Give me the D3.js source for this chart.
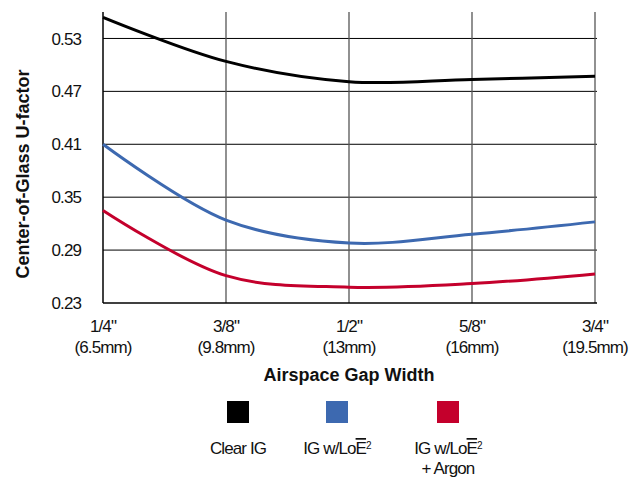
<!DOCTYPE html>
<html>
<head>
<meta charset="utf-8">
<script src="https://cdn.jsdelivr.net/npm/d3@7"></script>
<style>
  body { margin: 0; background: #fff; }
  text { font-family: "Liberation Sans", Arial, Helvetica, sans-serif; font-size: 17px; letter-spacing: -0.9px; fill: #111; }
  .bold { font-weight: bold; font-size: 18px; letter-spacing: 0; }
</style>
</head>
<body>
<script>
// gap widths and their labels
let gapInch = ['1/4"', '3/8"', '1/2"', '5/8"', '3/4"'];
let gapMMLabel = ["(6.5mm)", "(9.8mm)", "(13mm)", "(16mm)", "(19.5mm)"];

let yTicks = [0.23, 0.29, 0.35, 0.41, 0.47, 0.53];

// center-of-glass U-factor
let clearIG = [0.554, 0.504, 0.481, 0.4835, 0.487];
let loe2 = [0.41, 0.324, 0.298, 0.308, 0.322];
let loe2Argon = [0.335, 0.261, 0.248, 0.252, 0.263];

let seriesNames = ["Clear IG", "IG w/LoE2", "IG w/LoE2 + Argon"];
let colors = ["#000000", "#3d69b0", "#c4002c"];

let W = 643, H = 477;
let margin = {top: 12, right: 48, bottom: 174, left: 103};
let width = W - margin.left - margin.right,
	height = H - margin.top - margin.bottom;

let svg = d3.select("body").append("svg")
	.attr("width", W)
	.attr("height", H);

let g = svg.append("g")
	.attr("transform", "translate(" + margin.left + "," + margin.top + ")");

let x = d3.scalePoint().domain(gapInch).range([0, width]);
let y = d3.scaleLinear().domain([0.23, 0.56]).range([height, 0]);

// horizontal grid
g.selectAll(".hgrid")
	.data(yTicks.slice(1))
	.enter().append("line")
	.attr("x1", 0).attr("x2", width + 2)
	.attr("y1", d => y(d)).attr("y2", d => y(d))
	.attr("stroke", "#000").attr("stroke-width", 1);

// vertical grid
g.selectAll(".vgrid")
	.data(gapInch.slice(1))
	.enter().append("line")
	.attr("x1", d => x(d)).attr("x2", d => x(d))
	.attr("y1", 0).attr("y2", height)
	.attr("stroke", "#555").attr("stroke-width", 1.3);

// axes frame
g.append("line").attr("x1", 0).attr("x2", 0).attr("y1", 0).attr("y2", height)
	.attr("stroke", "#000").attr("stroke-width", 1.5);
g.append("line").attr("x1", 0).attr("x2", width + 2).attr("y1", height).attr("y2", height)
	.attr("stroke", "#000").attr("stroke-width", 1.5);

// y tick labels
g.selectAll(".ylab")
	.data(yTicks)
	.enter().append("text")
	.attr("x", -22)
	.attr("y", d => y(d))
	.attr("dy", "0.36em")
	.attr("text-anchor", "end")
	.text(d => d.toFixed(2));

// x tick labels
let xl = g.selectAll(".xlab")
	.data(gapInch)
	.enter().append("text")
	.attr("text-anchor", "middle")
	.attr("transform", d => "translate(" + x(d) + "," + (height + 29) + ")");
xl.append("tspan").attr("x", 0).attr("y", 0).text(d => d);
xl.append("tspan").attr("x", 0).attr("y", 21).text((d, i) => gapMMLabel[i]);

// axis titles
g.append("text")
	.attr("class", "bold")
	.attr("x", width / 2)
	.attr("y", height + 78)
	.attr("text-anchor", "middle")
	.text("Airspace Gap Width");

svg.append("text")
	.attr("class", "bold")
	.attr("transform", "translate(29," + (margin.top + 162) + ") rotate(-90)")
	.attr("text-anchor", "middle")
	.text("Center-of-Glass U-factor");

// lines
let line = d3.line()
	.x((d, i) => x(gapInch[i]))
	.y(d => y(d))
	.curve(d3.curveCatmullRom.alpha(0.5));

g.selectAll(".series")
	.data([clearIG, loe2, loe2Argon])
	.enter().append("path")
	.attr("d", line)
	.attr("fill", "none")
	.attr("stroke", (d, i) => colors[i])
	.attr("stroke-width", 3);

// legend
let legendX = [238, 337, 448];
let legend = svg.selectAll(".legend")
	.data(seriesNames)
	.enter().append("g")
	.attr("transform", (d, i) => "translate(" + legendX[i] + ",401)");

legend.append("rect")
	.attr("x", -11).attr("y", 0)
	.attr("width", 22).attr("height", 22)
	.attr("fill", (d, i) => colors[i]);

legend.each(function(d, i) {
	let t = d3.select(this).append("text")
		.attr("text-anchor", "middle")
		.attr("y", 53);
	if (i == 0) {
		t.text(d);
		return;
	}
	t.append("tspan").text("IG w/Lo");
	t.append("tspan").style("text-decoration", "overline").text("E");
	t.append("tspan").attr("font-size", 10).attr("dy", -5).text("2");
	if (i == 2) {
		d3.select(this).append("text")
			.attr("text-anchor", "middle")
			.attr("y", 73)
			.text("+ Argon");
	}
});
</script>
</body>
</html>
